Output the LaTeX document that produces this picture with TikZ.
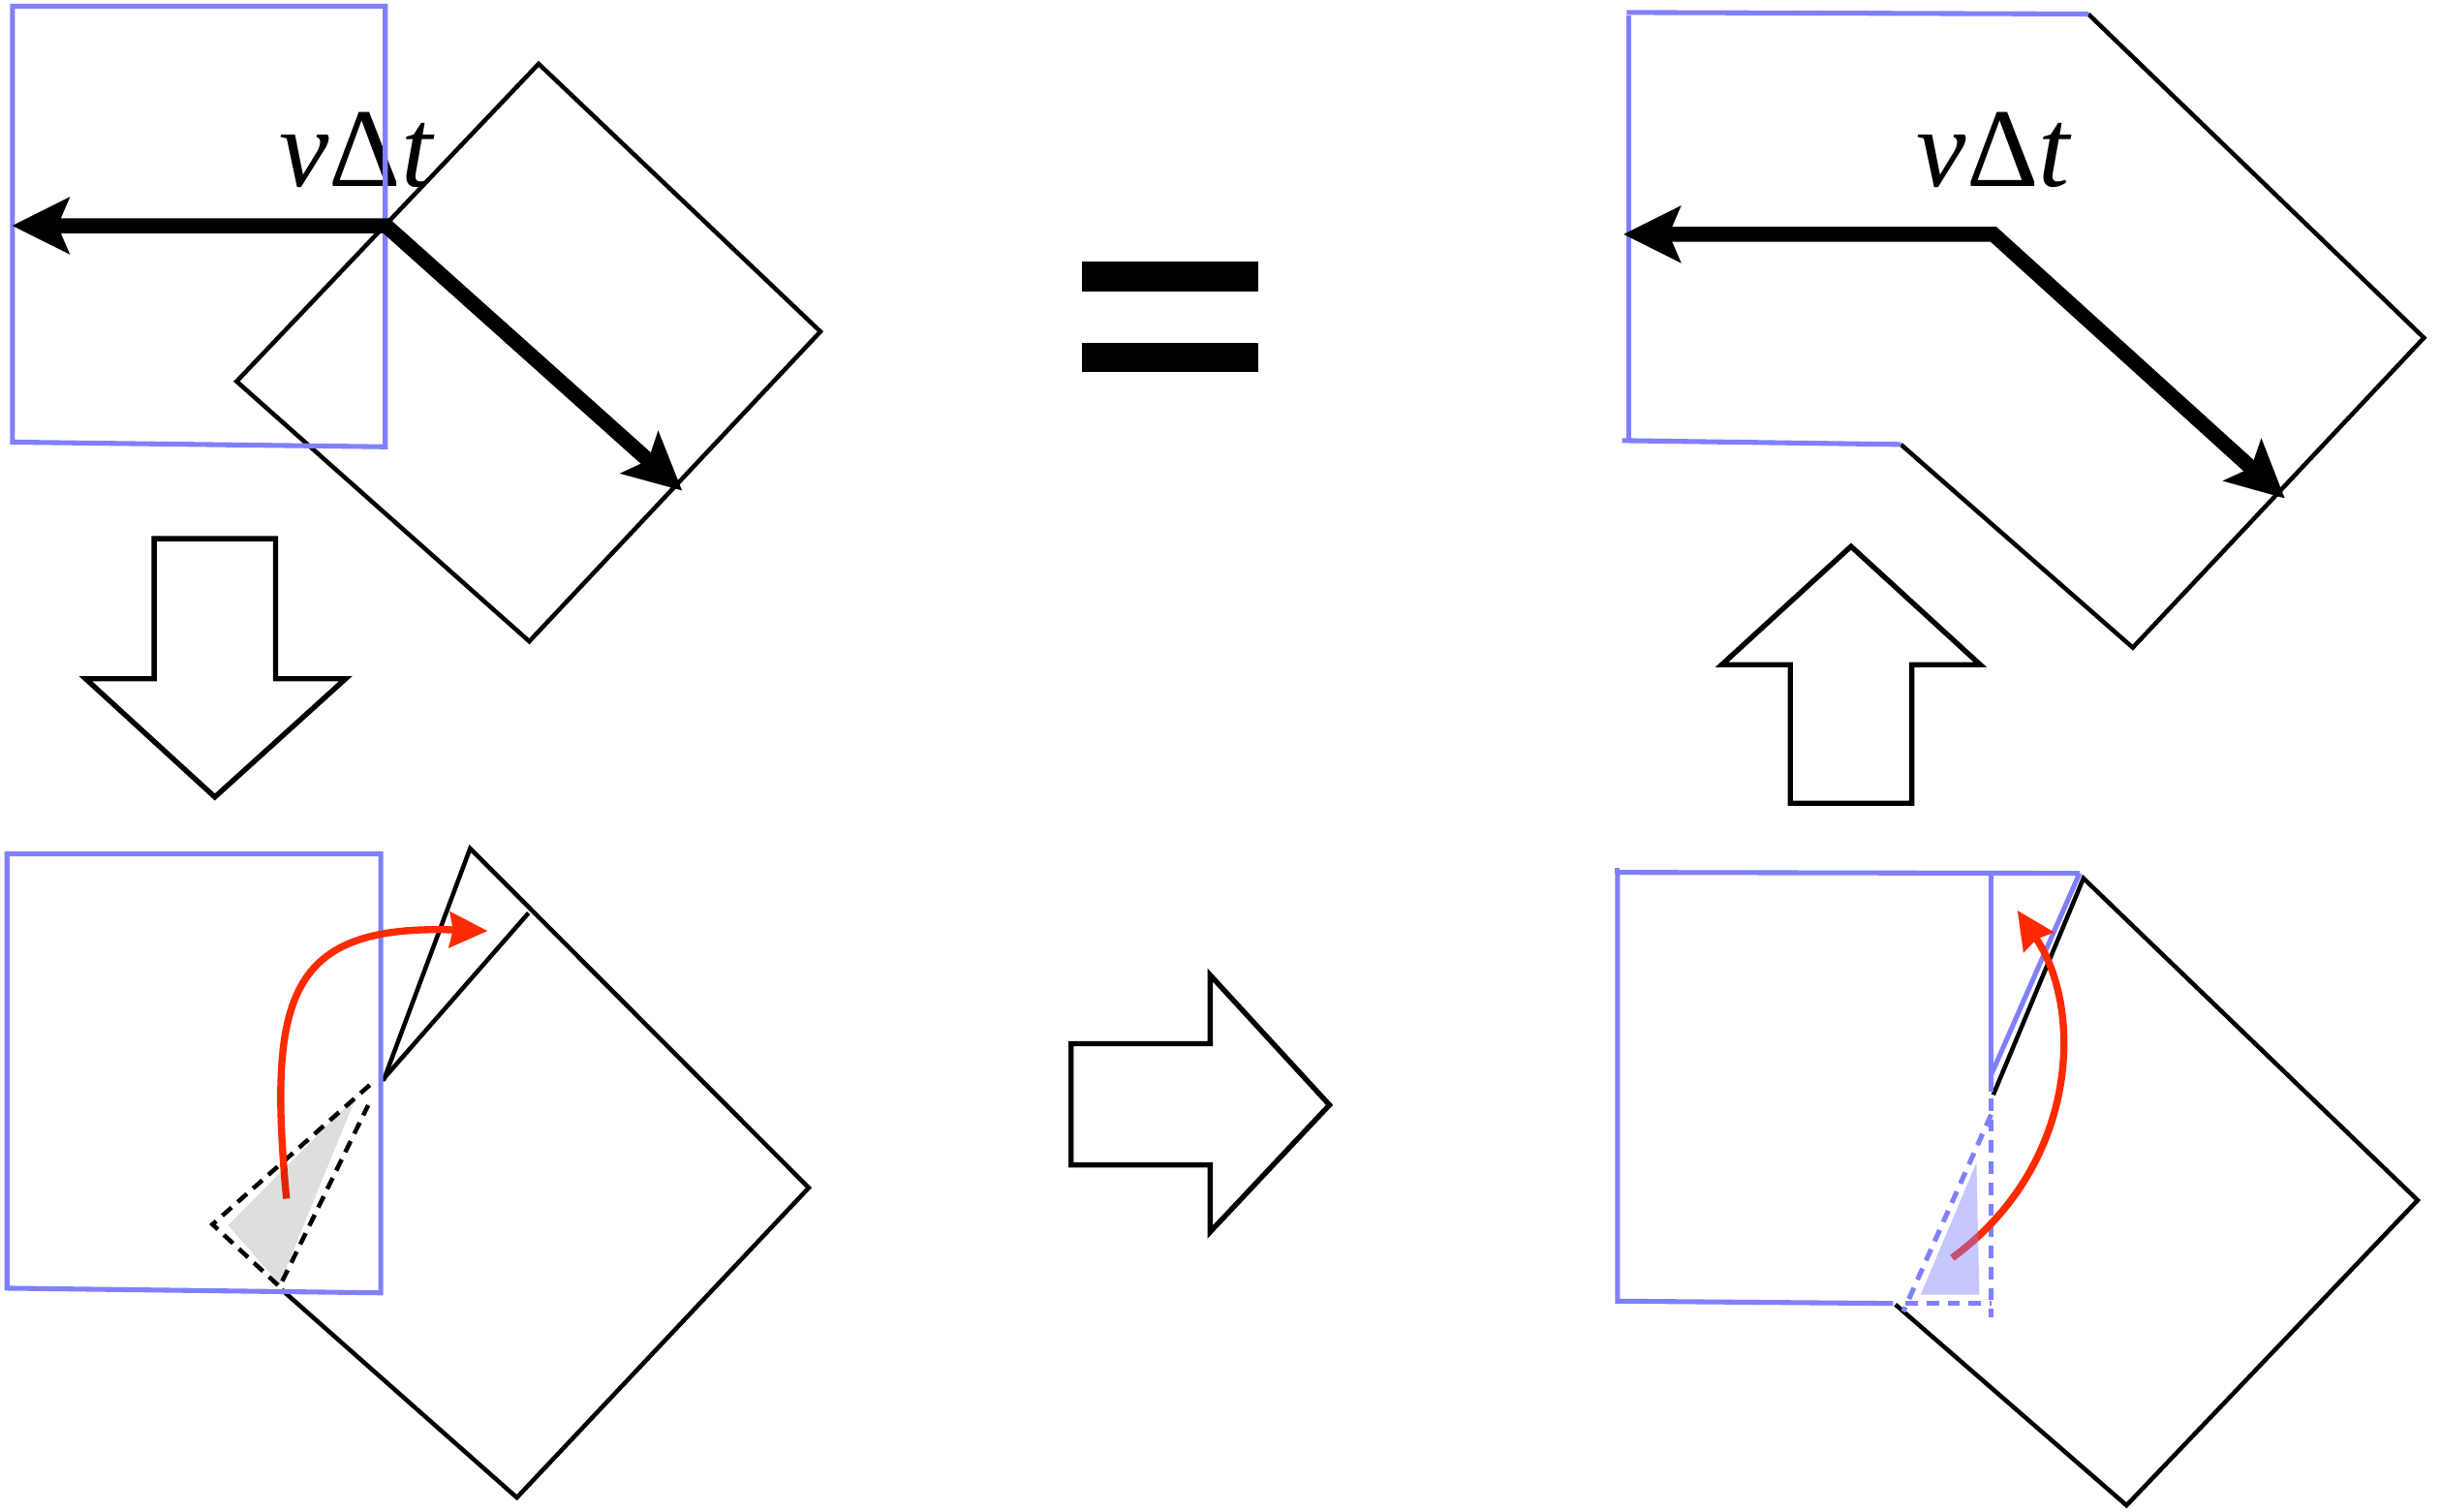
\documentclass[tikz,border=0pt]{standalone}
\usepackage{fontspec}
\setmainfont{Liberation Serif}
\usetikzlibrary{arrows.meta}
\definecolor{bluel}{RGB}{128,128,255}
\definecolor{redl}{RGB}{255,42,0}
\tikzset{
  blk/.style={draw=black,line width=1.6pt,line join=miter},
  blu/.style={draw=bluel,line width=1.8pt,line join=miter},
  blkdash/.style={draw=black,line width=1.6pt,dash pattern=on 4.5pt off 3pt},
  bludash/.style={draw=bluel,line width=1.8pt,dash pattern=on 4.5pt off 3.2pt},
  blockarrow/.style={draw=black,fill=white,line width=1.9pt,line join=miter},
  thickarrow/.style={draw=black,line width=5.5pt,line join=miter,
    {Stealth[length=21pt,width=21pt,inset=4.5pt,line width=0.01pt]}-{Stealth[length=21pt,width=21pt,inset=4.5pt,line width=0.01pt]}},
  redarrow/.style={draw=redl,line width=2.6pt,-{Stealth[length=14pt,width=13.5pt,inset=1.5pt,line width=0.01pt]}},
  lbl/.style={inner sep=0pt,anchor=base west,font=\fontsize{41}{49}\selectfont}
}
\begin{document}
\begin{tikzpicture}[x=0.02cm,y=-0.02cm]
\path[use as bounding box] (0,0) rectangle (1568,971);

% ---------- top-left panel ----------
\node[lbl] (lblL) at (179,119.5) {\itshape v\upshape Δ\itshape t};
\draw[blk] (346,41) -- (527,213) -- (340,412) -- (152,245) -- cycle;
\draw[blu] (8,4) -- (247.5,4) -- (247.5,287) -- (8,284) -- cycle;
\coordinate (tlL) at (8,145);
\coordinate (tlC) at (248,145);
\coordinate (tlR) at (438,315);
\draw[thickarrow] (tlL) -- (tlC) -- (tlR);

% ---------- equals sign ----------
\fill[black] (695,168) rectangle (808,187.3);
\fill[black] (695,220) rectangle (808,239.2);

% ---------- top-right panel ----------
\node[lbl] (lblR) at (1231,119.5) {\itshape v\upshape Δ\itshape t};
\draw[blk] (1341.4,9) -- (1557,217) -- (1370,416) -- (1221,285.5);
\draw[blu] (1221,285.5) -- (1042,283) ;
\draw[blu] (1046,10) -- (1046,283);
\draw[blu] (1045,8) -- (1341.4,9);
\coordinate (trL) at (1043,150.5);
\coordinate (trC) at (1280.5,150.5);
\coordinate (trR) at (1467.5,320);
\draw[thickarrow] (trL) -- (trC) -- (trR);

% ---------- block arrows ----------
\draw[blockarrow] (99,346) -- (177,346) -- (177,436) -- (222,436) -- (138,512) -- (55,436) -- (99,436) -- cycle;
\draw[blockarrow] (1150,516) -- (1228,516) -- (1228,427) -- (1272,427) -- (1189,351) -- (1106,427) -- (1150,427) -- cycle;
\draw[blockarrow] (688,670.4) -- (777.4,670.4) -- (777.4,626.4) -- (854,709.8) -- (777.4,791.3) -- (777.4,748.4) -- (688,748.4) -- cycle;

% ---------- bottom-left panel ----------
\draw[blk] (181,828.5) -- (332,962) -- (519.5,763) -- (302,545) -- (246.4,694);
\draw[blk] (339.5,586.5) -- (245.5,694);
\draw[blkdash] (237.5,697) -- (136.5,786.5) -- (179.6,826.5) -- (236.5,710);
\draw[blu] (4.5,548.5) -- (244.6,548.5) -- (244.6,830.5) -- (4.5,827.5) -- cycle;
\coordinate (rl0) at (184,770);
\coordinate (rl1) at (313,598);
\draw[redarrow] (rl0) .. controls (172,640) and (185,594) .. (rl1);
\fill[black,opacity=0.13] (229,704) -- (146.5,787) -- (179.6,825) -- cycle;

% ---------- bottom-right panel ----------
\draw[blk] (1280.4,703.3) -- (1338.3,564.2) -- (1553,771) -- (1366,967) -- (1217.5,838);
\draw[blu] (1216,837.3) -- (1039,835.8) -- (1039,560.4) -- (1335.8,561);
\draw[blu] (1039,557.5) -- (1039,561);
\draw[blu] (1279,561.5) -- (1279,701);
\draw[blu] (1335.8,561) -- (1279,690.5);
\draw[bludash] (1279,705.5) -- (1279,846.5);
\draw[bludash] (1279,716) -- (1222.6,842.5);
\draw[bludash] (1224,837.3) -- (1279,837.3);
\coordinate (rr0) at (1254,808);
\coordinate (rr1) at (1296,585);
\draw[redarrow] (rr0) .. controls (1336,748) and (1338,648) .. (rr1);
\fill[bluel,opacity=0.44] (1269.6,746.8) -- (1233.7,831.7) -- (1271.4,831.7) -- cycle;
\end{tikzpicture}
\end{document}
